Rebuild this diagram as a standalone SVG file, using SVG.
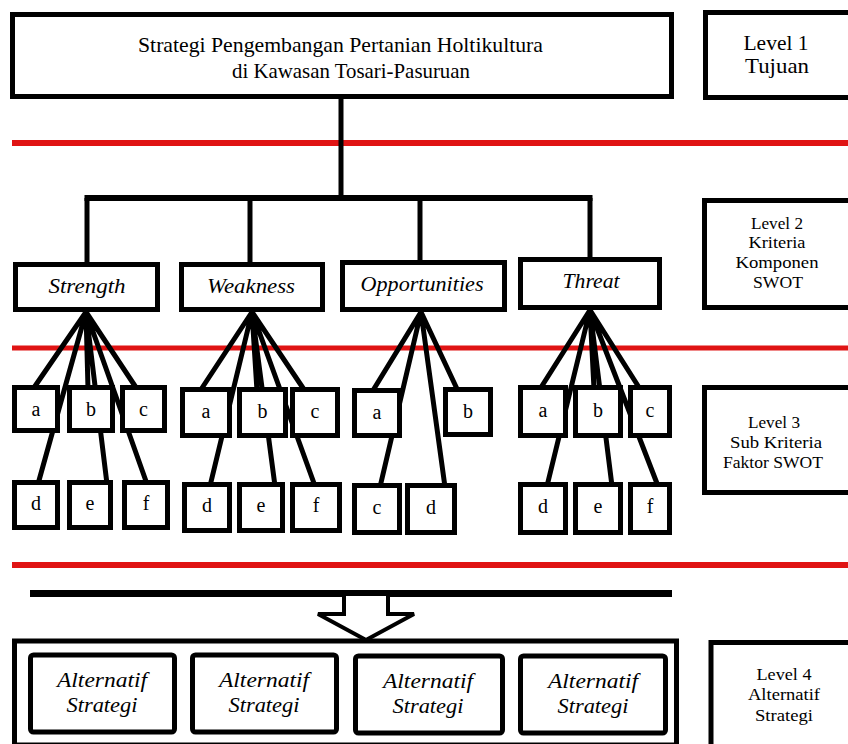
<svg xmlns="http://www.w3.org/2000/svg" width="848" height="744" viewBox="0 0 848 744">
<style>
.bx{fill:#fff;stroke:#000;stroke-width:5}
.ln{stroke:#000;stroke-width:5;fill:none;stroke-linecap:butt}
.red{stroke:#e01414;stroke-width:6}
text{fill:#000;text-anchor:middle}
.ti{font-style:italic;font-size:22px}
.lt{font-size:20px}
.lv{font-size:17px}
</style>
<rect width="848" height="744" fill="#fff"/>
<g id="separators">
<line class="red" x1="12" y1="143" x2="848" y2="143"/>
<line class="red" x1="12" y1="348" x2="848" y2="348" style="stroke-width:5"/>
<line class="red" x1="12" y1="565" x2="848" y2="565"/>
</g>
<g id="connectors">
<line class="ln" x1="341" y1="97" x2="341" y2="198"/>
<line class="ln" x1="84.5" y1="198" x2="592.5" y2="198" style="stroke-width:6"/>
<line class="ln" x1="87" y1="198" x2="87" y2="264"/>
<line class="ln" x1="250" y1="198" x2="250" y2="264"/>
<line class="ln" x1="420" y1="198" x2="420" y2="262"/>
<line class="ln" x1="590" y1="198" x2="590" y2="260"/>
<path class="ln" d="M86 312L33 389M86 312L38 484M86 312L88 389M86 312L107 484M86 312L137 389M86 312L147 484"/>
<path class="ln" d="M252 312L200 391M252 312L210 486M252 312L257 391M252 312L275 486M252 312L305 391M252 312L315 486"/>
<path class="ln" d="M421 312L372 392M421 312L380 487M421 312L445 487M421 312L458 391"/>
<path class="ln" d="M590 310L540 389M590 310L547 486M590 310L594 389M590 310L612 486M590 310L640 389M590 310L658 486"/>
<line class="ln" x1="30" y1="593.5" x2="672" y2="593.5" style="stroke-width:7"/>
<polyline points="344,596 344,614 318,614 366,640 414,614 388,614 388,596" fill="#fff" stroke="#000" stroke-width="4" stroke-linejoin="miter"/>
</g>
<g font-family="Liberation Serif, DejaVu Serif, serif">
<g id="goal">
<rect class="bx" x="12.5" y="14.5" width="659" height="82"/>
<text font-size="22" x="340.5" y="52" textLength="405" lengthAdjust="spacingAndGlyphs">Strategi Pengembangan Pertanian Holtikultura</text>
<text font-size="22" x="351" y="78" textLength="238" lengthAdjust="spacingAndGlyphs">di Kawasan Tosari-Pasuruan</text>
</g>
<g id="level1">
<rect class="bx" x="705.5" y="12.5" width="150" height="85"/>
<text font-size="22" x="776" y="50" textLength="65" lengthAdjust="spacingAndGlyphs">Level 1</text>
<text font-size="22" x="777" y="73" textLength="64" lengthAdjust="spacingAndGlyphs">Tujuan</text>
</g>
<g id="strength">
<rect class="bx" x="15.5" y="264.5" width="142" height="45"/>
<text class="ti" x="87" y="293" textLength="77" lengthAdjust="spacingAndGlyphs">Strength</text>
</g>
<g id="weakness">
<rect class="bx" x="181.5" y="264.5" width="141" height="45"/>
<text class="ti" x="251" y="293" textLength="88" lengthAdjust="spacingAndGlyphs">Weakness</text>
</g>
<g id="opportunities">
<rect class="bx" x="342.5" y="262.5" width="162" height="47"/>
<text class="ti" x="422" y="291" textLength="123" lengthAdjust="spacingAndGlyphs">Opportunities</text>
</g>
<g id="threat">
<rect class="bx" x="520.5" y="259.5" width="139" height="48"/>
<text class="ti" x="591" y="288" textLength="57" lengthAdjust="spacingAndGlyphs">Threat</text>
</g>
<g id="level2">
<rect class="bx" x="704.5" y="200.5" width="150" height="107"/>
<text class="lv" x="777" y="229" textLength="52" lengthAdjust="spacingAndGlyphs">Level 2</text>
<text class="lv" x="777" y="248" textLength="57" lengthAdjust="spacingAndGlyphs">Kriteria</text>
<text class="lv" x="777" y="268" textLength="83" lengthAdjust="spacingAndGlyphs">Komponen</text>
<text class="lv" x="778" y="288" textLength="50" lengthAdjust="spacingAndGlyphs">SWOT</text>
</g>
<g id="strength-factors">
<rect class="bx" x="14.5" y="387.5" width="43" height="43"/><text class="lt" x="36" y="416">a</text>
<rect class="bx" x="69.5" y="387.5" width="43" height="43"/><text class="lt" x="91" y="416">b</text>
<rect class="bx" x="122.5" y="387.5" width="42" height="43"/><text class="lt" x="143.5" y="416">c</text>
<rect class="bx" x="14.5" y="482.5" width="43" height="45"/><text class="lt" x="36" y="510">d</text>
<rect class="bx" x="69.5" y="482.5" width="41" height="45"/><text class="lt" x="90" y="510">e</text>
<rect class="bx" x="124.5" y="482.5" width="43" height="45"/><text class="lt" x="146" y="510">f</text>
</g>
<g id="weakness-factors">
<rect class="bx" x="182.5" y="389.5" width="47" height="46"/><text class="lt" x="206" y="418">a</text>
<rect class="bx" x="239.5" y="389.5" width="46" height="46"/><text class="lt" x="262.5" y="418">b</text>
<rect class="bx" x="292.5" y="389.5" width="45" height="46"/><text class="lt" x="315" y="418">c</text>
<rect class="bx" x="184.5" y="484.5" width="45" height="46"/><text class="lt" x="207" y="512">d</text>
<rect class="bx" x="239.5" y="484.5" width="43" height="46"/><text class="lt" x="261" y="512">e</text>
<rect class="bx" x="292.5" y="484.5" width="47" height="46"/><text class="lt" x="316" y="512">f</text>
</g>
<g id="opportunity-factors">
<rect class="bx" x="354.5" y="390.5" width="45" height="45"/><text class="lt" x="377" y="419">a</text>
<rect class="bx" x="445.5" y="389.5" width="45" height="45"/><text class="lt" x="468" y="418">b</text>
<rect class="bx" x="354.5" y="485.5" width="45" height="47"/><text class="lt" x="377" y="514">c</text>
<rect class="bx" x="407.5" y="485.5" width="47" height="47"/><text class="lt" x="431" y="514">d</text>
</g>
<g id="threat-factors">
<rect class="bx" x="520.5" y="387.5" width="45" height="48"/><text class="lt" x="543" y="417">a</text>
<rect class="bx" x="575.5" y="387.5" width="45" height="48"/><text class="lt" x="598" y="417">b</text>
<rect class="bx" x="630.5" y="387.5" width="39" height="48"/><text class="lt" x="650" y="417">c</text>
<rect class="bx" x="520.5" y="484.5" width="45" height="48"/><text class="lt" x="543" y="513">d</text>
<rect class="bx" x="575.5" y="484.5" width="45" height="48"/><text class="lt" x="598" y="513">e</text>
<rect class="bx" x="630.5" y="484.5" width="39" height="48"/><text class="lt" x="650" y="513">f</text>
</g>
<g id="level3">
<rect class="bx" x="704.5" y="387.5" width="150" height="105"/>
<text class="lv" x="774" y="428" textLength="52" lengthAdjust="spacingAndGlyphs">Level 3</text>
<text class="lv" x="776" y="448" textLength="92" lengthAdjust="spacingAndGlyphs">Sub Kriteria</text>
<text class="lv" x="773" y="468" textLength="100" lengthAdjust="spacingAndGlyphs">Faktor SWOT</text>
</g>
<g id="alternatives">
<rect class="bx" x="14.5" y="641" width="662" height="104"/>
<g id="alt1">
<rect class="bx" x="30.5" y="655" width="144" height="77" rx="3"/>
<text class="ti" x="102" y="687" textLength="90" lengthAdjust="spacingAndGlyphs">Alternatif</text>
<text class="ti" x="102" y="712" textLength="71" lengthAdjust="spacingAndGlyphs">Strategi</text>
</g>
<g id="alt2">
<rect class="bx" x="192.5" y="655" width="144" height="77" rx="3"/>
<text class="ti" x="264" y="687" textLength="90" lengthAdjust="spacingAndGlyphs">Alternatif</text>
<text class="ti" x="264" y="712" textLength="71" lengthAdjust="spacingAndGlyphs">Strategi</text>
</g>
<g id="alt3">
<rect class="bx" x="355.5" y="656" width="147" height="77" rx="3"/>
<text class="ti" x="428" y="688" textLength="90" lengthAdjust="spacingAndGlyphs">Alternatif</text>
<text class="ti" x="428" y="713" textLength="71" lengthAdjust="spacingAndGlyphs">Strategi</text>
</g>
<g id="alt4">
<rect class="bx" x="520.5" y="656" width="145" height="77" rx="3"/>
<text class="ti" x="593" y="688" textLength="90" lengthAdjust="spacingAndGlyphs">Alternatif</text>
<text class="ti" x="593" y="713" textLength="71" lengthAdjust="spacingAndGlyphs">Strategi</text>
</g>
</g>
<g id="level4">
<rect class="bx" x="711" y="642.5" width="150" height="110"/>
<text class="lv" x="784" y="680" textLength="55" lengthAdjust="spacingAndGlyphs">Level 4</text>
<text class="lv" x="784" y="700" textLength="72" lengthAdjust="spacingAndGlyphs">Alternatif</text>
<text class="lv" x="784" y="721" textLength="58" lengthAdjust="spacingAndGlyphs">Strategi</text>
</g>
</g>
</svg>
